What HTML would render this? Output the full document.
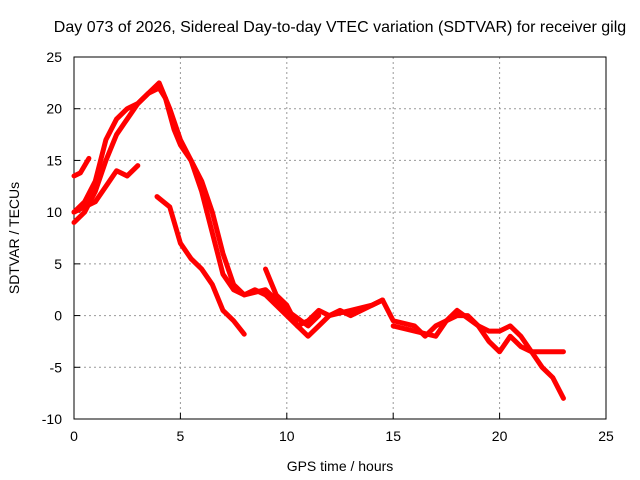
<!DOCTYPE html>
<html><head><meta charset="utf-8"><style>
html,body{margin:0;padding:0;background:#fff}
svg{display:block;font-family:"Liberation Sans",sans-serif}
</style></head><body>
<svg id="chart" width="640" height="480" viewBox="0 0 640 480">
<rect x="0" y="0" width="640" height="480" fill="#fff"/>
<text x="340" y="32" font-size="16" text-anchor="middle" fill="#000">Day 073 of 2026, Sidereal Day-to-day VTEC variation (SDTVAR) for receiver gilg</text>
<g id="grid"></g>
<g id="axes"></g>
<g id="series"></g>
<text x="340" y="471" font-size="14" text-anchor="middle">GPS time / hours</text>
<text transform="translate(19,238) rotate(-90)" font-size="14" text-anchor="middle">SDTVAR / TECUs</text>
</svg>
<script>
const xTicks=[0,5,10,15,20,25];
const yTicks=[-10,-5,0,5,10,15,20,25];
const s1=[[0,9],[0.5,10],[1,12],[1.5,15],[2,17.5],[2.5,19],[3,20.5],[3.5,21.5],[4,22],[4.3,21],[4.7,18],[5,16.5],[5.5,15],[6,13],[6.5,10],[7,6],[7.5,3],[8,2],[8.5,2.5],[9,2],[9.5,1],[10,0],[10.5,-1],[11,-0.5],[11.5,0.5],[12,0],[13,0.5],[14,1],[14.5,1.5]];
const s2=[[0,10],[0.5,11],[1,13],[1.5,17],[2,19],[2.5,20],[3,20.5],[3.5,21.5],[4,22.5],[4.5,20],[5,17],[5.5,15],[6,12],[6.5,8],[7,4],[7.5,2.5],[8,2],[9,2.5],[10,0.5],[11,-1],[11.5,0]];
const s3=[[0,13.5],[0.3,13.8],[0.7,15.2]];
const s4=[[0,10],[1,11],[1.5,12.5],[2,14],[2.5,13.5],[3,14.5]];
const s5=[[3.9,11.5],[4.5,10.5],[5,7],[5.5,5.5],[6,4.5],[6.5,3],[7,0.5],[7.5,-0.5],[8,-1.8]];
const s6=[[9,4.5],[9.5,2],[10,1],[10.5,-1],[11,-2],[11.5,-1],[12,0],[12.5,0.5],[13,0],[14,1],[14.5,1.5]];
const s7=[[14.5,1.5],[15,-0.5],[16,-1],[16.5,-2],[17,-1],[17.5,-0.5],[18,0],[18.5,0],[19,-1],[19.5,-1.5],[20,-1.5],[20.5,-1],[21,-2],[21.5,-3.5],[22,-5],[22.5,-6],[23,-8]];
const s8=[[15,-1],[16,-1.5],[17,-2],[17.5,-0.5],[18,0.5],[19,-1],[19.5,-2.5],[20,-3.5],[20.5,-2],[21,-3],[21.5,-3.5],[22,-3.5],[23,-3.5]];
const allSeries=[s1,s2,s3,s4,s5,s6,s7,s8];
const X0=74,X1=606,Y0=419,Y1=57;
const xs=v=>X0+(v-0)/25*(X1-X0);
const ys=v=>Y0-(v+10)/35*(Y0-Y1);
const NS="http://www.w3.org/2000/svg";
const grid=document.getElementById('grid'),axes=document.getElementById('axes'),ser=document.getElementById('series');
function mk(tag,attrs,parent){const e=document.createElementNS(NS,tag);for(const k in attrs)e.setAttribute(k,attrs[k]);parent.appendChild(e);return e;}
xTicks.forEach(t=>{
 if(t>0&&t<25){const g=mk('line',{x1:xs(t),x2:xs(t),y1:Y1,y2:Y0,stroke:'#999','stroke-dasharray':'2,3','stroke-width':1},grid);
 
 }
 const tk=mk('line',{x1:xs(t),x2:xs(t),y1:Y0,y2:Y0-6,stroke:'#000'},axes);
 
 
 const tx=mk('text',{x:xs(t),y:Y0+22,'font-size':14,'text-anchor':'middle'},axes);tx.textContent=t;
 
 
});
yTicks.forEach(t=>{
 if(t>-10&&t<25){const g=mk('line',{x1:X0,x2:X1,y1:ys(t),y2:ys(t),stroke:'#999','stroke-dasharray':'2,3','stroke-width':1},grid);
 
 }
 const tk=mk('line',{x1:X0,x2:X0+6,y1:ys(t),y2:ys(t),stroke:'#000'},axes);
 
 
 const tx=mk('text',{x:X0-12,y:ys(t)+5,'font-size':14,'text-anchor':'end'},axes);tx.textContent=t;
 
 
});
const fr=mk('rect',{x:X0,y:Y1,width:X1-X0,height:Y0-Y1,fill:'none',stroke:'#000'},axes);


allSeries.forEach((s,i)=>{
 const p=mk('polyline',{points:s.map(d=>xs(d[0])+','+ys(d[1])).join(' '),fill:'none',stroke:'#f00','stroke-width':5,'stroke-linejoin':'round','stroke-linecap':'round'},ser);
 
 
});
</script>
</body></html>
